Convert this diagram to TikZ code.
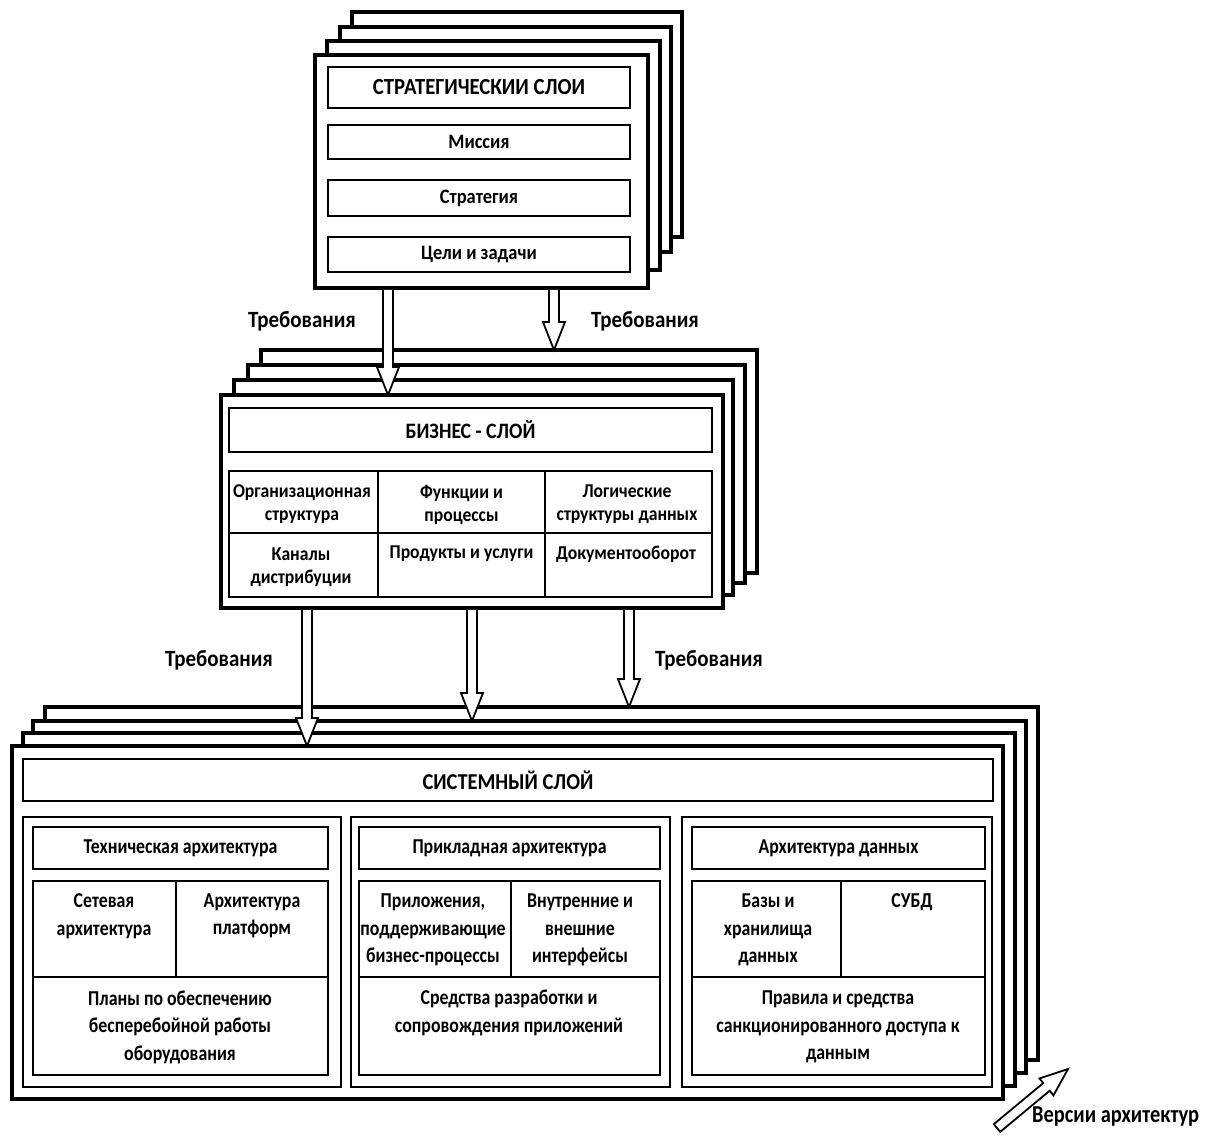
\documentclass[tikz,border=0pt]{standalone}
\usepackage{fontspec}
\setmainfont{Carlito}
\newfontfamily\fnorm[FakeStretch=0.9]{Carlito}
\newfontfamily\fsys[FakeStretch=0.84]{Carlito}
\usetikzlibrary{calc}
\newcommand\boxnode[7][]{\node[#1, minimum width={#5-#3}, minimum height={#6-#4}] (#2) at ({(#3+#5)/2},{(#4+#6)/2}) {#7};}
\newcommand\hollowarrow[3][]{%
 \path ($(#3)!28pt!(#2)$) coordinate (hb);
 \draw[harrow] ($(#2)!5pt!90:(#3)$) -- ($(hb)!5pt!90:(#3)$) -- ($(hb)!11pt!90:(#3)$) -- (#3) -- ($(hb)!11pt!-90:(#3)$) -- ($(hb)!5pt!-90:(#3)$) -- ($(#2)!5pt!-90:(#3)$) #1;}
\begin{document}
\begin{tikzpicture}[x=1pt,y=-1pt,
  frame/.style={draw, line width=3.8pt, fill=white, inner sep=0pt, outer sep=0pt},
  tbox/.style={draw, line width=2.6pt, inner sep=0pt, outer sep=0pt},
  ibox/.style={draw, line width=1.5pt, inner sep=0pt, outer sep=0pt},
  harrow/.style={draw, line width=1.8pt, fill=white},
  topfont/.style={font=\fnorm\bfseries\fontsize{20.5}{23}\selectfont},
  busfont/.style={font=\fnorm\bfseries\fontsize{19.6}{23}\selectfont},
  sysfont/.style={font=\fsys\bfseries\fontsize{21.2}{27.5}\selectfont},
  reqfont/.style={font=\fnorm\bfseries\fontsize{23.3}{26}\selectfont},
  lbl/.style={align=center, inner sep=0pt}]
\useasboundingbox (0,0) rectangle (1207,1135);

% ---------- strategic layer stack ----------
\boxnode[frame]{strat3}{352}{12}{682}{237}{}
\boxnode[frame]{strat2}{340}{27}{671}{252}{}
\boxnode[frame]{strat1}{327}{41}{660}{270}{}
\boxnode[frame]{strat}{315}{55}{648}{288}{}
\boxnode[tbox, font=\fnorm\bfseries\fontsize{23}{26}\selectfont]{sttitle}{328}{67}{630}{108}{СТРАТЕГИЧЕСКИИ СЛОИ}
\boxnode[ibox, topfont]{mission}{328}{125}{630}{159}{Миссия}
\boxnode[ibox, topfont]{strategy}{328}{180}{630}{216}{Стратегия}
\boxnode[ibox, topfont]{goals}{328}{237}{630}{272}{Цели и задачи}

% ---------- business layer stack ----------
\boxnode[frame]{bus3}{261}{350}{757}{573}{}
\boxnode[frame]{bus2}{248}{365}{745}{583}{}
\boxnode[frame]{bus1}{234}{380}{733}{595}{}
\boxnode[frame]{bus}{221}{395}{723}{608}{}
\boxnode[tbox, font=\fnorm\bfseries\fontsize{22}{26}\selectfont]{bustitle}{229}{408}{712}{452}{БИЗНЕС - СЛОЙ}
\boxnode[ibox]{bc11}{229}{471}{378}{533}{}
\boxnode[ibox]{bc12}{378}{471}{545}{533}{}
\boxnode[ibox]{bc13}{545}{471}{712}{533}{}
\boxnode[ibox]{bc21}{229}{533}{378}{597}{}
\boxnode[ibox]{bc22}{378}{533}{545}{597}{}
\boxnode[ibox]{bc23}{545}{533}{712}{597}{}
\node[lbl, busfont] (t11) at (302,504) {Организационная\\структура};
\node[lbl, busfont] (t12) at (461.5,505) {Функции и\\процессы};
\node[lbl, busfont] (t13) at (627,504) {Логические\\структуры данных};
\node[lbl, busfont] (t21) at (301,567) {Каналы\\дистрибуции};
\node[lbl, busfont] (t22) at (461.5,554) {Продукты и услуги};
\node[lbl, busfont] (t23) at (626,554) {Документооборот};

% ---------- system layer stack ----------
\boxnode[frame]{sys3}{45}{707}{1038}{1060}{}
\boxnode[frame]{sys2}{33}{721}{1026}{1073}{}
\boxnode[frame]{sys1}{23}{733}{1015}{1086}{}
\boxnode[frame]{sys}{12}{746}{1003}{1099}{}
\boxnode[tbox, font=\fnorm\bfseries\fontsize{22.7}{26}\selectfont]{systitle}{23}{759}{993}{801}{СИСТЕМНЫЙ СЛОЙ}
% panels
\boxnode[ibox]{p1}{23}{817}{341}{1087}{}
\boxnode[ibox]{p2}{351}{817}{670}{1087}{}
\boxnode[ibox]{p3}{682}{817}{992}{1087}{}
\boxnode[ibox, sysfont]{s1}{33}{827}{328}{869}{Техническая архитектура}
\boxnode[ibox, sysfont]{s2}{359}{827}{660}{869}{Прикладная архитектура}
\boxnode[ibox, sysfont]{s3}{692}{827}{985}{869}{Архитектура данных}
% grids
\boxnode[ibox]{g1a}{33}{881}{176}{977}{}
\boxnode[ibox]{g1b}{176}{881}{328}{977}{}
\boxnode[ibox]{g1c}{33}{977}{328}{1075}{}
\boxnode[ibox]{g2a}{359}{881}{511}{977}{}
\boxnode[ibox]{g2b}{511}{881}{660}{977}{}
\boxnode[ibox]{g2c}{359}{977}{660}{1075}{}
\boxnode[ibox]{g3a}{692}{881}{841}{977}{}
\boxnode[ibox]{g3b}{841}{881}{985}{977}{}
\boxnode[ibox]{g3c}{692}{977}{985}{1075}{}
\node[lbl, sysfont] (u1a) at (104,916) {Сетевая\\архитектура};
\node[lbl, sysfont] (u1b) at (252,916) {Архитектура\\платформ};
\node[lbl, sysfont] (u1c) at (180,1027) {Планы по обеспечению\\бесперебойной работы\\оборудования};
\node[lbl, sysfont] (u2a) at (433,930) {Приложения,\\поддерживающие\\бизнес-процессы};
\node[lbl, sysfont] (u2b) at (580,930) {Внутренние и\\внешние\\интерфейсы};
\node[lbl, sysfont] (u2c) at (509,1013) {Средства разработки и\\сопровождения приложений};
\node[lbl, sysfont] (u3a) at (768,930) {Базы и\\хранилища\\данных};
\node[lbl, sysfont] (u3b) at (912,902) {СУБД};
\node[lbl, sysfont] (u3c) at (838,1027) {Правила и средства\\санкционированного доступа к\\данным};

% ---------- requirement arrows ----------
\path (strat.south -| 388,0) ++(0,1.9) coordinate (a1s);
\path (bus.north -| 388,0) coordinate (a1e);
\hollowarrow{a1s}{a1e}
\path (strat.south -| 554,0) ++(0,1.9) coordinate (a2s);
\path (bus3.north -| 554,0) coordinate (a2e);
\hollowarrow{a2s}{a2e}
\path (bus.south -| 307,0) ++(0,1.9) coordinate (a3s);
\path (sys.north -| 307,0) coordinate (a3e);
\hollowarrow{a3s}{a3e}
\path (bus.south -| 472,0) ++(0,1.9) coordinate (a4s);
\path (sys2.north -| 472,0) coordinate (a4e);
\hollowarrow{a4s}{a4e}
\path (bus.south -| 629,0) ++(0,1.9) coordinate (a5s);
\path (sys3.north -| 629,0) coordinate (a5e);
\hollowarrow{a5s}{a5e}

\node[lbl, reqfont] (req1) at (302,321) {Требования};
\node[lbl, reqfont] (req2) at (645,321) {Требования};
\node[lbl, reqfont] (req3) at (219,660) {Требования};
\node[lbl, reqfont] (req4) at (709,660) {Требования};

% ---------- versions arrow ----------
\coordinate (vs) at (997,1128);
\coordinate (ve) at (1068,1069);
\hollowarrow[-- cycle]{vs}{ve}
\node[lbl, anchor=west, font=\fsys\bfseries\fontsize{24.3}{28}\selectfont] (ver) at (1032,1117) {Версии архитектур};
\end{tikzpicture}
\end{document}
